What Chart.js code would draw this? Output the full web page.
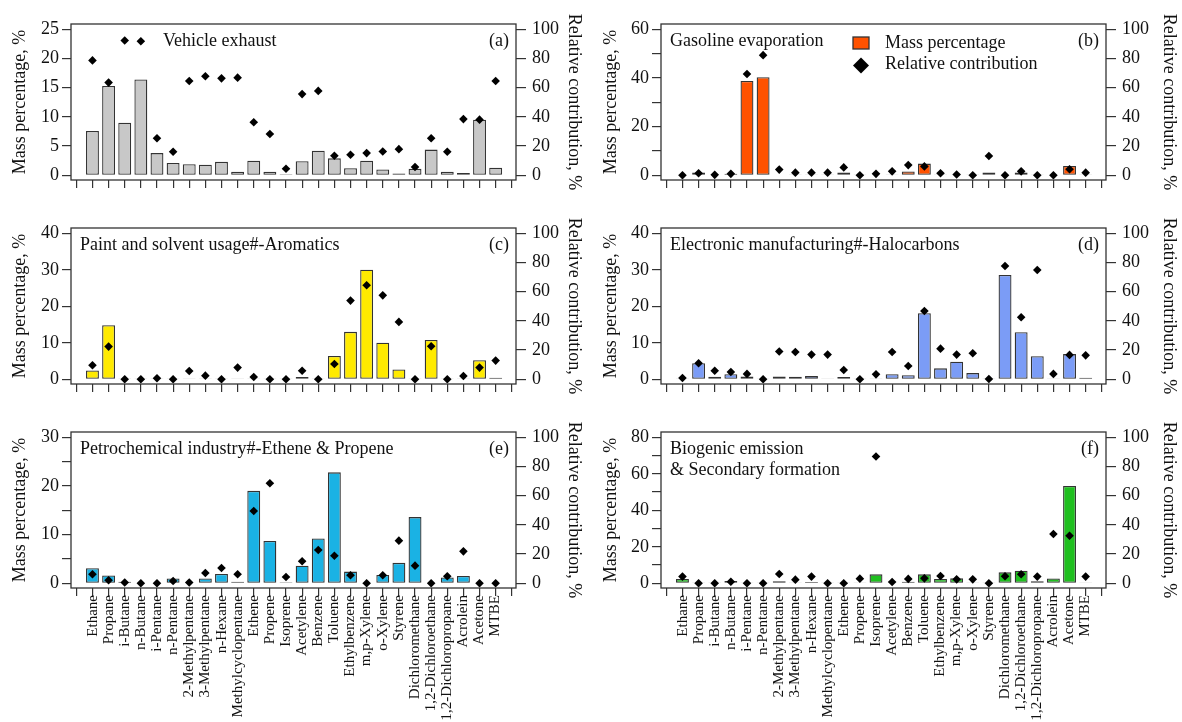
<!DOCTYPE html>
<html>
<head>
<meta charset="utf-8">
<title>VOC source profiles</title>
<script src="https://cdn.jsdelivr.net/npm/chart.js@4/dist/chart.umd.min.js"></script>
<style>
  html, body { margin: 0; padding: 0; background: #ffffff; }
  #wrap { position: relative; width: 1182px; height: 722px; overflow: hidden; background: #ffffff; }
  #wrap canvas { position: absolute; }
</style>
</head>
<body>
<div id="wrap"></div>
<script>
// Species (x axis categories)
const categories = [
  'Ethane', 'Propane', 'i-Butane', 'n-Butane', 'i-Pentane', 'n-Pentane',
  '2-Methylpentane', '3-Methylpentane', 'n-Hexane', 'Methylcyclopentane',
  'Ethene', 'Propene', 'Isoprene', 'Acetylene', 'Benzene', 'Toluene',
  'Ethylbenzene', 'm,p-Xylene', 'o-Xylene', 'Styrene', 'Dichloromethane',
  '1,2-Dichloroethane', '1,2-Dichloropropane', 'Acrolein', 'Acetone', 'MTBE'
];

// Mass percentage (%) and relative contribution (%) of each source factor
const massVehicle = [7.6, 15.3, 9.0, 16.4, 3.8, 2.1, 1.9, 1.8, 2.3, 0.6, 2.5, 0.6, 0.2, 2.4, 4.2, 2.9, 1.2, 2.5, 1.0, 0.3, 1.1, 4.4, 0.6, 0.4, 9.5, 1.3];
const contribVehicle = [78.7, 63.5, 92.3, 91.8, 25.4, 16.1, 64.6, 67.8, 66.4, 66.9, 36.3, 28.3, 4.5, 55.6, 57.8, 13.4, 14.1, 15.2, 16.3, 17.9, 5.7, 25.4, 16.1, 38.5, 38.1, 64.6];

const massGasoline = [0.2, 1.1, 0.2, 0.6, 38.8, 40.3, 0.2, 0.3, 0.3, 0.3, 1.2, 0.1, 0.2, 0.3, 1.6, 4.8, 0.3, 0.2, 0.1, 1.1, 0.2, 1.2, 0.1, 0.2, 3.8, 0.3];
const contribGasoline = [0, 1.4, 0.3, 1.0, 69.4, 82.3, 3.9, 1.8, 1.8, 1.8, 5.4, 0, 1.0, 2.7, 7.0, 6.1, 1.4, 0.5, 0, 13.2, 0, 2.7, 0, 0, 4.1, 1.8];

const massPaint = [2.4, 14.8, 0.1, 0.1, 0.1, 0.1, 0.2, 0.2, 0.1, 0.1, 0.2, 0.1, 0.1, 0.6, 0.1, 6.4, 13.0, 30.0, 10.0, 2.7, 0.1, 10.8, 0.1, 0.2, 5.2, 0.4];
const contribPaint = [9.6, 22.4, 0, 0, 0.7, 0, 5.7, 2.5, 0, 8.0, 1.6, 0, 0, 5.9, 0, 10.5, 53.9, 64.4, 57.5, 39.3, 0, 22.6, 0, 2.3, 8.0, 12.8];

const massElectronic = [0.2, 4.4, 0.7, 1.4, 0.8, 0.2, 0.8, 0.7, 0.9, 0.2, 0.6, 0.1, 0.2, 1.4, 1.1, 18.1, 3.0, 4.8, 1.7, 0.1, 28.6, 12.9, 6.3, 0.2, 6.9, 0.4];
const contribElectronic = [0.9, 11.0, 5.9, 5.0, 3.7, 0, 19.0, 18.7, 16.9, 16.9, 6.4, 0, 3.4, 18.7, 9.1, 46.8, 21.0, 16.9, 17.8, 0.2, 77.6, 42.5, 74.9, 3.7, 16.7, 16.4];

const massPetro = [3.1, 1.6, 0.3, 0.1, 0.1, 1.0, 0.1, 1.0, 1.9, 0.3, 19.0, 8.7, 0.2, 3.6, 9.2, 22.8, 2.4, 0.1, 1.7, 4.2, 13.6, 0.1, 1.2, 1.5, 0.1, 0.1];
const contribPetro = [6.2, 2.1, 0.5, 0, 0, 1.6, 0.5, 7.1, 10.5, 6.2, 49.5, 68.5, 4.3, 15.1, 22.8, 18.9, 5.5, 0, 5.5, 29.2, 12.1, 0, 4.8, 21.9, 0, 0];

const massBiogenic = [2.4, 0.2, 0.2, 1.3, 0.2, 0.2, 1.1, 0.5, 0.7, 0.2, 0.2, 0.5, 4.9, 0.3, 0.9, 4.9, 2.4, 2.7, 0.5, 0.1, 6.0, 6.9, 1.1, 2.6, 53.3, 0.4];
const contribBiogenic = [4.6, 0, 0, 1.1, 0, 0, 6.4, 2.5, 4.6, 0, 0, 3.2, 86.8, 0.9, 3.0, 3.4, 5.0, 2.7, 2.7, 0, 4.8, 6.2, 4.6, 33.8, 32.6, 4.6];

// Axis tick values
const contribTicks = [0, 20, 40, 60, 80, 100];
const massTicksVehicle = [0, 5, 10, 15, 20, 25];
const massTicksGasoline = [0, 20, 40, 60];
const minorTicksGasoline = [10, 30, 50];
const massTicksPaint = [0, 10, 20, 30, 40];
const massTicksElectronic = [0, 10, 20, 30, 40];
const massTicksPetro = [0, 10, 20, 30];
const minorTicksPetro = [5, 15, 25];
const massTicksBiogenic = [0, 20, 40, 60, 80];
const minorTicksBiogenic = [10, 30, 50, 70];

// Legend / axis texts
const massLabel = 'Mass percentage';
const contribLabel = 'Relative contribution';
const leftAxisTitle = 'Mass percentage, %';
const rightAxisTitle = 'Relative contribution, %';

// ---------------------------------------------------------------------------
const SERIF = "'Liberation Serif', 'DejaVu Serif', serif";
const INK = '#111111';
const FRAME = '#333333';

// Column / row geometry (canvas placement and plot box inside each canvas)
const columns = [
  { left: 0,   width: 591, boxL: 71, boxR: 516, leftTitlePad: 9.2, rightTitlePad: 6.2 },
  { left: 591, width: 591, boxL: 70, boxR: 515, leftTitlePad: 9.0, rightTitlePad: 2.2 }
];
const rows = [
  { top: 0,   height: 200, boxT: 24, boxB: 180, labels: false },
  { top: 200, height: 204, boxT: 28, boxB: 184, labels: false },
  { top: 404, height: 318, boxT: 28, boxB: 184, labels: true }
];

const panels = [
  { key: 'a', title: ['Vehicle exhaust'], titleDx: 92, mass: massVehicle, contrib: contribVehicle,
    color: '#c8c8c8', ticks: massTicksVehicle, minor: [], col: 0, row: 0 },
  { key: 'b', title: ['Gasoline evaporation'], titleDx: 9, mass: massGasoline, contrib: contribGasoline,
    color: '#ff5200', ticks: massTicksGasoline, minor: minorTicksGasoline, col: 1, row: 0, legend: true },
  { key: 'c', title: ['Paint and solvent usage#-Aromatics'], titleDx: 9, mass: massPaint, contrib: contribPaint,
    color: '#ffea00', ticks: massTicksPaint, minor: [], col: 0, row: 1 },
  { key: 'd', title: ['Electronic manufacturing#-Halocarbons'], titleDx: 9, mass: massElectronic, contrib: contribElectronic,
    color: '#7b9cf6', ticks: massTicksElectronic, minor: [], col: 1, row: 1 },
  { key: 'e', title: ['Petrochemical industry#-Ethene & Propene'], titleDx: 9, mass: massPetro, contrib: contribPetro,
    color: '#1ab2e4', ticks: massTicksPetro, minor: minorTicksPetro, col: 0, row: 2 },
  { key: 'f', title: ['Biogenic emission', '& Secondary formation'], titleDx: 9, mass: massBiogenic, contrib: contribBiogenic,
    color: '#1fbf1f', ticks: massTicksBiogenic, minor: minorTicksBiogenic, col: 1, row: 2 }
];

// Frame, in-panel title, panel letter and (optional) legend
const panelDecor = {
  id: 'panelDecor',
  afterDatasetsDraw(chart, args, opts) {
    const { ctx, chartArea: { left, top, right, bottom } } = chart;
    ctx.save();
    ctx.strokeStyle = FRAME;
    ctx.lineWidth = 1.3;
    ctx.strokeRect(left, top, right - left, bottom - top);

    ctx.fillStyle = INK;
    ctx.font = '18px ' + SERIF;
    ctx.textBaseline = 'middle';
    ctx.textAlign = 'left';
    opts.title.forEach((line, i) => ctx.fillText(line, left + opts.titleDx, top + 17 + i * 21));
    ctx.textAlign = 'right';
    ctx.fillText('(' + opts.letter + ')', right - 7, top + 17);

    if (opts.legend) {
      const bars = chart.data.datasets[1];
      const pts = chart.data.datasets[0];
      const lx = left + 192;
      // bar swatch
      ctx.fillStyle = bars.backgroundColor;
      ctx.strokeStyle = FRAME;
      ctx.lineWidth = 1.3;
      ctx.fillRect(lx, top + 13, 16, 12);
      ctx.strokeRect(lx, top + 13, 16, 12);
      // diamond marker
      ctx.fillStyle = pts.pointBackgroundColor;
      Chart.helpers.drawPoint(ctx, { pointStyle: 'rectRot', radius: 8, borderWidth: 0 }, lx + 8, top + 41.5);
      ctx.fillStyle = INK;
      ctx.textAlign = 'left';
      ctx.fillText(bars.label, lx + 32, top + 19);
      ctx.fillText(pts.label, lx + 32, top + 40);
    }
    ctx.restore();
  }
};

const wrap = document.getElementById('wrap');
const n = categories.length;
const xMin = -0.82, xMax = n - 1 + 0.75;
const boundaries = categories.map((_, i) => i - 0.5).concat([n - 0.5]);

panels.forEach(p => {
  const col = columns[p.col];
  const row = rows[p.row];
  const canvas = document.createElement('canvas');
  canvas.width = col.width;
  canvas.height = row.height;
  canvas.style.left = col.left + 'px';
  canvas.style.top = row.top + 'px';
  canvas.style.width = col.width + 'px';
  canvas.style.height = row.height + 'px';
  wrap.appendChild(canvas);

  const topTick = p.ticks[p.ticks.length - 1];
  const yMin = -0.0322 * topTick, yMax = 1.0363 * topTick;
  const leftAll = p.ticks.concat(p.minor).sort((a, b) => a - b);
  const belowBox = row.height - row.boxB;
  const tickAxisH = row.labels ? 5 : belowBox;

  const scales = {
    x: {
      type: 'linear', position: 'bottom', min: xMin, max: xMax, bounds: 'data',
      afterBuildTicks: s => { s.ticks = boundaries.map(v => ({ value: v })); },
      afterFit: s => { s.height = tickAxisH; },
      ticks: { display: false },
      grid: { drawOnChartArea: false, drawTicks: true, tickLength: 8, color: FRAME, lineWidth: 1.2 },
      border: { display: false }
    },
    y: {
      type: 'linear', position: 'left', min: yMin, max: yMax, bounds: 'data',
      afterBuildTicks: s => { s.ticks = leftAll.map(v => ({ value: v })); },
      afterFit: s => { s.width = col.boxL; },
      ticks: {
        autoSkip: false, padding: 3, color: INK, font: { family: SERIF, size: 18 },
        callback: v => (p.ticks.includes(v) ? String(v) : '')
      },
      grid: { drawOnChartArea: false, drawTicks: true, tickLength: 9, color: FRAME, lineWidth: 1.2 },
      border: { display: false },
      title: { display: true, text: leftAxisTitle, color: INK, font: { family: SERIF, size: 18, lineHeight: 1.2 },
               padding: { top: col.leftTitlePad, bottom: 0 } }
    },
    y1: {
      type: 'linear', position: 'right', min: -0.0322 * 100, max: 1.0363 * 100, bounds: 'data',
      afterBuildTicks: s => { s.ticks = contribTicks.map(v => ({ value: v })); },
      afterFit: s => { s.width = col.width - col.boxR; },
      ticks: { autoSkip: false, padding: 6, color: INK, font: { family: SERIF, size: 18 } },
      grid: { drawOnChartArea: false, drawTicks: true, tickLength: 10, color: FRAME, lineWidth: 1.2 },
      border: { display: false },
      title: { display: true, text: rightAxisTitle, color: INK, font: { family: SERIF, size: 18, lineHeight: 1.2 },
               padding: { top: col.rightTitlePad, bottom: 0 } }
    }
  };

  if (row.labels) {
    scales.x2 = {
      type: 'linear', position: 'bottom', min: xMin, max: xMax, bounds: 'data',
      afterBuildTicks: s => { s.ticks = categories.map((_, i) => ({ value: i })); },
      afterFit: s => { s.height = belowBox - tickAxisH; },
      ticks: {
        autoSkip: false, minRotation: 90, maxRotation: 90, padding: 2, color: INK,
        font: { family: SERIF, size: 15 },
        callback: v => categories[v]
      },
      grid: { display: false, drawTicks: false },
      border: { display: false }
    };
  }

  new Chart(canvas, {
    type: 'bar',
    data: {
      datasets: [
        {
          type: 'line', label: contribLabel, yAxisID: 'y1', xAxisID: 'x', order: 0,
          data: p.contrib.map((v, i) => ({ x: i, y: v })),
          showLine: false, pointStyle: 'rectRot', pointRadius: 4.3,
          pointBackgroundColor: '#000000', pointBorderWidth: 0, pointBorderColor: '#000000'
        },
        {
          type: 'bar', label: massLabel, yAxisID: 'y', xAxisID: 'x', order: 1,
          data: p.mass.map((v, i) => ({ x: i, y: v })),
          backgroundColor: p.color, borderColor: FRAME, borderWidth: 1.3, borderSkipped: false,
          barPercentage: 0.8, categoryPercentage: 1.0
        }
      ]
    },
    options: {
      responsive: false,
      animation: false,
      events: [],
      devicePixelRatio: 1,
      layout: { padding: { top: row.boxT, left: 0, right: 0, bottom: 0 } },
      scales,
      plugins: {
        legend: { display: false },
        tooltip: { enabled: false },
        panelDecor: { title: p.title, titleDx: p.titleDx, letter: p.key, legend: !!p.legend }
      }
    },
    plugins: [panelDecor]
  });
});
</script>
</body>
</html>
